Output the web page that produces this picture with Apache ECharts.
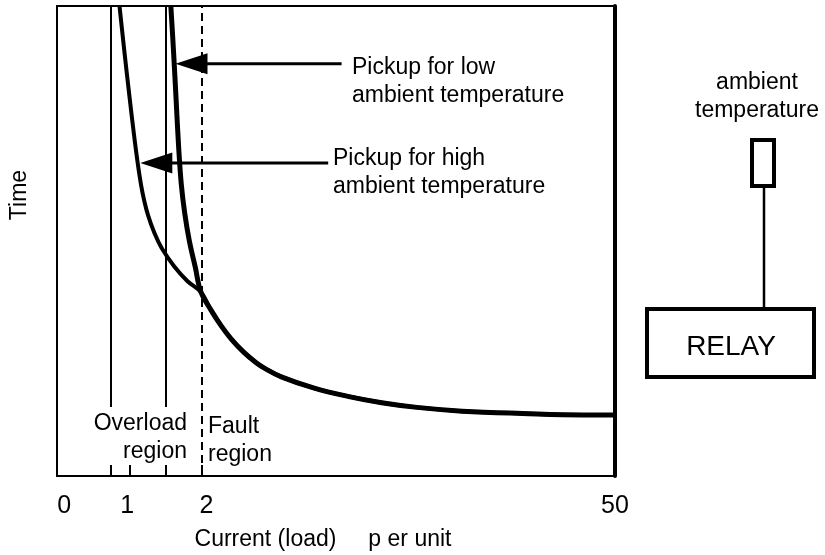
<!DOCTYPE html>
<html>
<head>
<meta charset="utf-8">
<script src="https://cdn.jsdelivr.net/npm/echarts@6/dist/echarts.min.js"></script>
<style>
  html, body { margin: 0; padding: 0; background: #fff; }
  #chart { width: 825px; height: 555px; }
</style>
</head>
<body>
<div id="chart"></div>
<script>
// schematic axes: x is position across the frame (0..100), y is time (0..100)
const xTickPos = [1.3, 12.6, 26.8, 100];
const xTickText = ["0", "1", "2", "50"];
const xTickMarks = [9.7, 13.0, 19.5, 25.9];
const overloadBounds = [9.7, 19.5];
const faultBound = 25.9;
const overloadLineBottom = 14.7;

// pickup curves (high / low ambient temperature) join at the fault boundary
const highTempHead = [
  [11.2, 100], [12.05, 90.6], [12.95, 81.1], [13.8, 72.6], [14.46, 66.6], [15.07, 61.9],
  [15.61, 58.7], [16.31, 55.5], [17.39, 51.9], [18.75, 48.5], [20.95, 44.7], [23.35, 41.5]
];
const lowTempHead = [
  [20.4, 100], [20.9, 90], [21.35, 80], [21.8, 70], [22.28, 62], [22.88, 56],
  [23.72, 50], [24.77, 44.5]
];
const commonTail = [
  [25.8, 39.1], [27.6, 35.3], [29.4, 32.0], [31.2, 29.2], [33.5, 26.3], [35.7, 24.1],
  [37.1, 23.0], [40.2, 21.1], [46.1, 18.7], [52.3, 16.9], [58.2, 15.6], [64.5, 14.6],
  [72.6, 13.8], [83.4, 13.3], [94.2, 13.0], [100, 13.0]
];

// arrows: shaft start and arrow head centre
const lowArrow = [[51.0, 87.7], [24.1, 87.7]];
const highArrow = [[48.6, 66.6], [17.8, 66.6]];

const FONT = "'Liberation Sans', Arial, sans-serif";
const LABEL_FONT = "23px " + FONT;

function arrowSeries(points) {
  return {
    type: "line",
    silent: true,
    animation: false,
    symbol: "none",
    lineStyle: { color: "#000", width: 3 },
    data: [
      { value: points[0], symbol: "none" },
      {
        value: points[1],
        symbol: "triangle",
        symbolSize: [21, 32],
        symbolRotate: 90,
        itemStyle: { color: "#000" }
      }
    ],
    showSymbol: true,
    z: 4
  };
}

function curveSeries(head, width) {
  return {
    type: "line",
    silent: true,
    animation: false,
    symbol: "none",
    smooth: 0.4,
    lineStyle: { color: "#000", width: width },
    data: head.concat(commonTail),
    z: 3
  };
}

const chart = echarts.init(document.getElementById("chart"), null, { renderer: "canvas" });

chart.setOption({
  animation: false,
  grid: {
    left: 57,
    right: 210,
    top: 6,
    bottom: 79,
    show: true,
    borderColor: "#000",
    borderWidth: 2,
    backgroundColor: "transparent"
  },
  xAxis: {
    type: "value",
    min: 0,
    max: 100,
    splitLine: { show: false },
    axisLine: { show: true, lineStyle: { color: "#000", width: 2 } },
    axisTick: {
      show: true,
      inside: true,
      length: 11,
      customValues: xTickMarks,
      lineStyle: { color: "#000", width: 2 }
    },
    axisLabel: {
      customValues: xTickPos,
      margin: 18,
      color: "#000",
      fontSize: 25,
      fontFamily: FONT,
      formatter: (v) => {
        let best = 0;
        xTickPos.forEach((p, i) => {
          if (Math.abs(p - v) < Math.abs(xTickPos[best] - v)) best = i;
        });
        return xTickText[best];
      }
    }
  },
  yAxis: [
    {
      type: "value",
      min: 0,
      max: 100,
      axisLine: { show: false },
      axisTick: { show: false },
      axisLabel: { show: false },
      splitLine: { show: false }
    },
    {
      type: "value",
      min: 0,
      max: 100,
      position: "right",
      axisLine: { show: true, lineStyle: { color: "#000", width: 4 } },
      axisTick: { show: false },
      axisLabel: { show: false },
      splitLine: { show: false }
    }
  ],
  series: [
    Object.assign(curveSeries(highTempHead, 4), {
      markLine: {
        silent: true,
        symbol: "none",
        label: { show: false },
        animation: false,
        data: [
          ...overloadBounds.map((x) => [
            { coord: [x, overloadLineBottom], lineStyle: { type: "solid", width: 2, color: "#000" } },
            { coord: [x, 100] }
          ]),
          [
            { coord: [faultBound, 0], lineStyle: { type: [8, 5], width: 2, color: "#000" } },
            { coord: [faultBound, 100] }
          ]
        ]
      }
    }),
    curveSeries(lowTempHead, 5),
    arrowSeries(lowArrow),
    arrowSeries(highArrow)
  ],
  graphic: [
    {
      type: "text", x: 352, y: 82, z: 100,
      style: { text: "Pickup for low\nambient temperature", font: LABEL_FONT, lineHeight: 28, textVerticalAlign: "middle", fill: "#000" }
    },
    {
      type: "text", x: 333, y: 173, z: 100,
      style: { text: "Pickup for high\nambient temperature", font: LABEL_FONT, lineHeight: 28, textVerticalAlign: "middle", fill: "#000" }
    },
    {
      type: "text", x: 187, y: 438, z: 100,
      style: { text: "Overload\nregion", font: LABEL_FONT, lineHeight: 28, textAlign: "right", textVerticalAlign: "middle", fill: "#000" }
    },
    {
      type: "text", x: 208, y: 441, z: 100,
      style: { text: "Fault\nregion", font: LABEL_FONT, lineHeight: 28, textVerticalAlign: "middle", fill: "#000" }
    },
    {
      type: "text", x: 323, y: 540, z: 100,
      style: { text: "Current (load)     p er unit", font: LABEL_FONT, textAlign: "center", textVerticalAlign: "middle", fill: "#000" }
    },
    {
      type: "text", x: 20, y: 195, rotation: Math.PI / 2, z: 100,
      style: { text: "Time", font: LABEL_FONT, textAlign: "center", textVerticalAlign: "middle", fill: "#000" }
    },
    {
      type: "text", x: 757, y: 97, z: 100,
      style: { text: "ambient\ntemperature", font: LABEL_FONT, lineHeight: 28, textAlign: "center", textVerticalAlign: "middle", fill: "#000" }
    },
    {
      type: "rect", z: 100,
      shape: { x: 752, y: 140, width: 22, height: 46 },
      style: { fill: "#fff", stroke: "#000", lineWidth: 4 }
    },
    {
      type: "line", z: 100,
      shape: { x1: 764, y1: 188, x2: 764, y2: 309 },
      style: { stroke: "#000", lineWidth: 2.5 }
    },
    {
      type: "rect", z: 100,
      shape: { x: 647, y: 309, width: 167, height: 68 },
      style: { fill: "#fff", stroke: "#000", lineWidth: 4 }
    },
    {
      type: "text", x: 731, y: 347, z: 101,
      style: { text: "RELAY", font: "28px " + FONT, textAlign: "center", textVerticalAlign: "middle", fill: "#000" }
    }
  ]
});
</script>
</body>
</html>
